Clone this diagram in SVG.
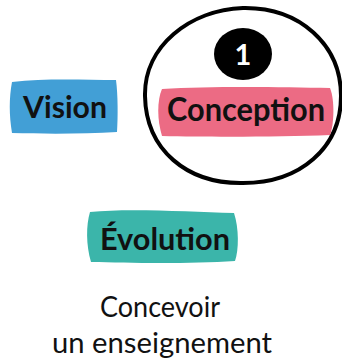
<svg xmlns="http://www.w3.org/2000/svg" width="342" height="360" viewBox="0 0 342 360">
<style>
.lbl{font-family:"Lato","Liberation Sans",sans-serif;font-weight:bold;fill:#111;text-anchor:middle}
.txt{font-family:"Lato","Liberation Sans",sans-serif;fill:#111;text-anchor:middle}
</style>
<rect width="342" height="360" fill="#ffffff"/>
<g id="conception-ring">
<path d="M145,96 C144,46 190,10 243,8 C300,7 341,45 341,96 C341,148 300,183 243,183 C187,184 146,150 145,96 Z" fill="none" stroke="#000" stroke-width="4" stroke-linejoin="round"/>
</g>
<g id="vision">
<path d="M12,82 C45,78 85,80 116,80 C118,95 118,118 117,132 C85,134 45,134 12,133 C9,115 9,98 12,82 Z" fill="#429FD6"/>
<text class="lbl" x="65" y="118" font-size="31" textLength="84" lengthAdjust="spacingAndGlyphs">Vision</text>
</g>
<g id="conception">
<path d="M162,89 C210,86 280,87 330,88 C335,100 334,125 330,135 C280,137 210,137 162,136 C157,120 157,100 162,89 Z" fill="#EC6B84"/>
<text class="lbl" x="246" y="121" font-size="32" textLength="158" lengthAdjust="spacingAndGlyphs">Conception</text>
</g>
<g id="step1">
<ellipse cx="243" cy="54" rx="29" ry="26" fill="#000"/>
<text x="243" y="65" font-family="Lato,'Liberation Sans',sans-serif" font-weight="bold" font-size="29" fill="#fff" text-anchor="middle">1</text>
</g>
<g id="evolution">
<path d="M90,212 C130,208 190,212 234,213 C239,228 239,250 235,261 C190,264 130,263 91,262 C86,245 86,225 90,212 Z" fill="#3BB5AA"/>
<text class="lbl" x="165" y="250" font-size="30" textLength="130" lengthAdjust="spacingAndGlyphs">Évolution</text>
</g>
<g id="connectors"></g>
<g id="caption">
<text class="txt" x="160" y="317" font-size="29" textLength="120" lengthAdjust="spacingAndGlyphs">Concevoir</text>
<text class="txt" x="162" y="353" font-size="29" textLength="220" lengthAdjust="spacingAndGlyphs">un enseignement</text>
</g>
</svg>
